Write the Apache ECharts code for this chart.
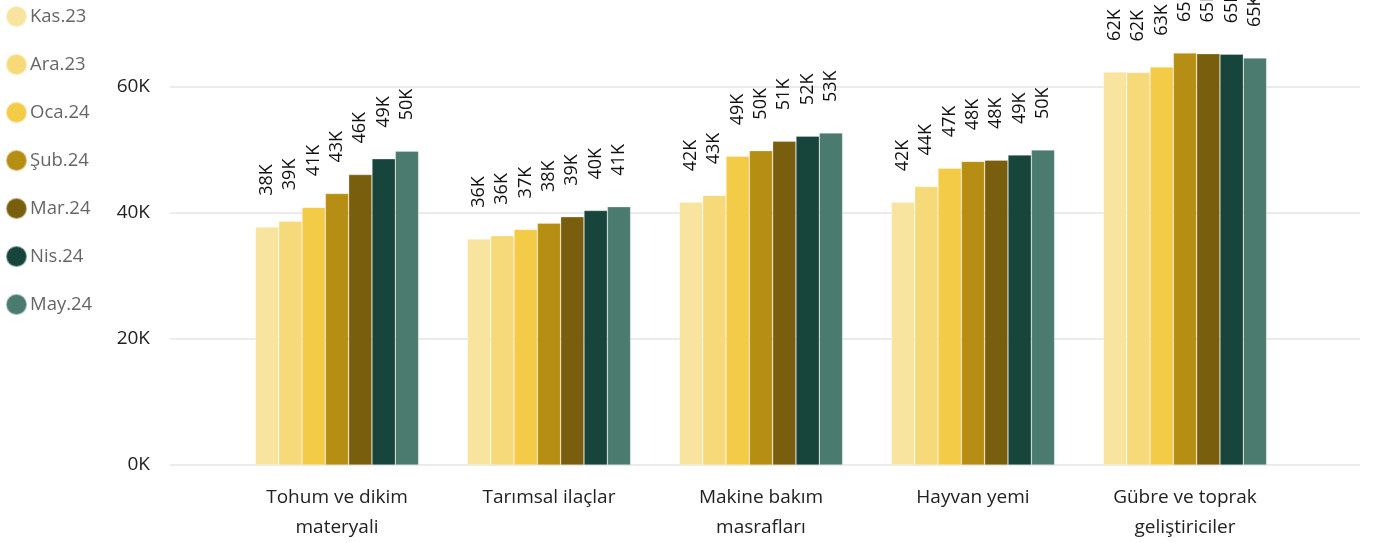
<!DOCTYPE html>
<html>
<head>
<meta charset="utf-8">
<script src="https://cdn.jsdelivr.net/npm/echarts@6/dist/echarts.min.js"></script>
<style>
html,body{margin:0;padding:0;background:#fff;}
#c{width:1373px;height:543px;}
</style>
</head>
<body>
<div id="c"></div>
<script>
const categories = ['Tohum ve dikim\nmateryali', 'Tarımsal ilaçlar', 'Makine bakım\nmasrafları', 'Hayvan yemi', 'Gübre ve toprak\ngeliştiriciler'];
const seriesNames = ['Kas.23', 'Ara.23', 'Oca.24', 'Şub.24', 'Mar.24', 'Nis.24', 'May.24'];
const kas23 = [37800, 35900, 41700, 41700, 62400];
const ara23 = [38700, 36400, 42800, 44200, 62300];
const oca24 = [40900, 37400, 49000, 47100, 63200];
const sub24 = [43100, 38400, 49900, 48200, 65400];
const mar24 = [46100, 39400, 51400, 48400, 65300];
const nis24 = [48600, 40400, 52200, 49200, 65200];
const may24 = [49800, 41000, 52700, 50000, 64600];
const yTicks = [0, 20000, 40000, 60000];
const colors = ['#F8E49E', '#F6D978', '#F4CB47', '#B78E14', '#795E0D', '#18453B', '#4A7B6E'];

const values = [kas23, ara23, oca24, sub24, mar24, nis24, may24];
const fontFam = '"Open Sans", "Noto Sans", sans-serif';

const chart = echarts.init(document.getElementById('c'));
chart.setOption({
  animation: false,
  color: colors,
  legend: {
    orient: 'vertical',
    left: 0,
    top: 0,
    icon: 'circle',
    itemWidth: 21,
    itemHeight: 21,
    itemGap: 25,
    data: seriesNames,
    textStyle: { color: '#666666', fontSize: 18.5, lineHeight: 21, fontFamily: fontFam, padding: [0, 0, 0, -2] }
  },
  grid: [
    { left: 170, right: 13, top: 87, bottom: 78 },
    { left: 231, right: 82, top: 24, bottom: 78 }
  ],
  xAxis: [
    { type: 'category', gridIndex: 0, data: categories, show: false },
    {
      type: 'category', gridIndex: 1, data: categories,
      axisLine: { show: false }, axisTick: { show: false },
      axisLabel: { color: '#222', fontSize: 19, fontFamily: fontFam, lineHeight: 30, margin: 18 }
    }
  ],
  yAxis: [
    {
      type: 'value', gridIndex: 0, min: 0, max: 60000, interval: 20000,
      axisLine: { show: false }, axisTick: { show: false },
      axisLabel: { color: '#222', fontSize: 19, fontFamily: fontFam, margin: 20,
        formatter: v => yTicks.includes(v) ? (v / 1000) + 'K' : '' },
      splitLine: { lineStyle: { color: '#E5E5E5', width: 1.5 } }
    },
    {
      type: 'value', gridIndex: 1, min: 0, max: 70000,
      show: false, splitLine: { show: false }
    }
  ],
  series: seriesNames.map((name, i) => ({
    name: name,
    type: 'bar',
    xAxisIndex: 1,
    yAxisIndex: 1,
    data: values[i],
    barGap: '0%',
    barCategoryGap: '23%',
    itemStyle: { color: colors[i], borderColor: 'rgba(255,255,255,0.45)', borderWidth: 0.6 },
    label: {
      show: true,
      position: 'top',
      distance: 31,
      rotate: 90,
      align: 'left',
      verticalAlign: 'middle',
      color: '#111',
      fontSize: 18,
      fontFamily: fontFam,
      formatter: p => Math.round(p.value / 1000) + 'K'
    }
  }))
});
</script>
</body>
</html>
